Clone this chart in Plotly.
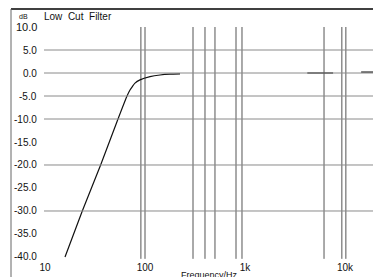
import plotly.graph_objects as go

# ---- data ----
curve_freq = [15.85, 23.6, 36.0, 53.7, 66.1, 70.8, 75.0, 79.4, 89.1, 112.2, 141.3, 177.8, 223.9,
              None, 4200, 7600, None, 14500, 20000]
curve_db = [-40, -30, -20, -10, -5, -3.7, -2.9, -2.2, -1.5, -0.8, -0.43, -0.25, -0.2,
            None, 0, 0, None, 0.2, 0.2]

grid_db = [5, 0, -5, -10, -20, -30]
marker_freqs = [91, 100, 302, 398, 501, 813, 933, 6170, 9300, 10200]

ytick_vals = [10, 5, 0, -5, -10, -15, -20, -25, -30, -35, -40]
ytick_text = ["10.0", "5.0", "0.0", "-5.0", "-10.0", "-15.0", "-20.0", "-25.0", "-30.0", "-35.0", "-40.0"]
xtick_vals = [10, 100, 1000, 10000]
xtick_text = ["10", "100", "1k", "10k"]

W, H = 373, 277
X_RANGE = [0.55, 4.28]
Y_RANGE = [-44.35, 15.87]
XLABEL_Y = -42.4

FONT = "Liberation Sans, Arial, sans-serif"

fig = go.Figure()

# vertical marker lines
for f in marker_freqs:
    fig.add_trace(go.Scatter(x=[f, f], y=[10, -40.4], mode="lines",
                             line=dict(color="#555555", width=1), hoverinfo="skip"))

# filter curve
fig.add_trace(go.Scatter(x=curve_freq, y=curve_db, mode="lines",
                         line=dict(color="#111111", width=1.2, shape="spline", smoothing=0.5),
                         connectgaps=False))

# x tick labels
fig.add_trace(go.Scatter(x=xtick_vals, y=[XLABEL_Y] * len(xtick_vals), mode="text",
                         text=xtick_text, textposition="middle center",
                         textfont=dict(family=FONT, size=10, color="#111")))

annotations = []
for v, t in zip(ytick_vals, ytick_text):
    annotations.append(dict(xref="paper", yref="y", x=39 / W, y=v, text=t, showarrow=False,
                            xanchor="right", yanchor="middle",
                            font=dict(family=FONT, size=11 if v == 10 else 10, color="#111")))
annotations.append(dict(xref="paper", yref="paper", x=17 / W, y=1 - 17 / H, text="dB",
                        showarrow=False, xanchor="left", yanchor="middle",
                        font=dict(family=FONT, size=7, color="#111")))
annotations.append(dict(xref="paper", yref="paper", x=42 / W, y=1 - 17 / H, text="Low  Cut  Filter",
                        showarrow=False, xanchor="left", yanchor="middle",
                        font=dict(family=FONT, size=10, color="#111")))
annotations.append(dict(xref="paper", yref="paper", x=209 / W, y=1 - 275 / H, text="Frequency/Hz",
                        showarrow=False, xanchor="center", yanchor="middle",
                        font=dict(family=FONT, size=9, color="#111")))

shapes = [
    dict(type="line", xref="paper", yref="paper", x0=11 / W, x1=1, y0=1 - 9 / H, y1=1 - 9 / H,
         line=dict(color="#000", width=1.3)),
    dict(type="line", xref="paper", yref="paper", x0=11 / W, x1=11 / W, y0=0, y1=1 - 9 / H,
         line=dict(color="#666", width=1)),
]
for g in grid_db:
    shapes.append(dict(type="line", xref="paper", yref="y", x0=44 / W, x1=1, y0=g, y1=g,
                       line=dict(color="#8a8a8a", width=1)))

fig.update_layout(
    width=W, height=H, margin=dict(l=0, r=0, t=0, b=0),
    paper_bgcolor="white", plot_bgcolor="white", showlegend=False,
    xaxis=dict(type="log", range=X_RANGE, visible=False, fixedrange=True),
    yaxis=dict(range=Y_RANGE, visible=False, fixedrange=True),
    annotations=annotations, shapes=shapes,
)

fig.write_html("out.html", config={"displayModeBar": False},
               post_script="document.body.style.margin='0';document.body.style.overflow='hidden';")
